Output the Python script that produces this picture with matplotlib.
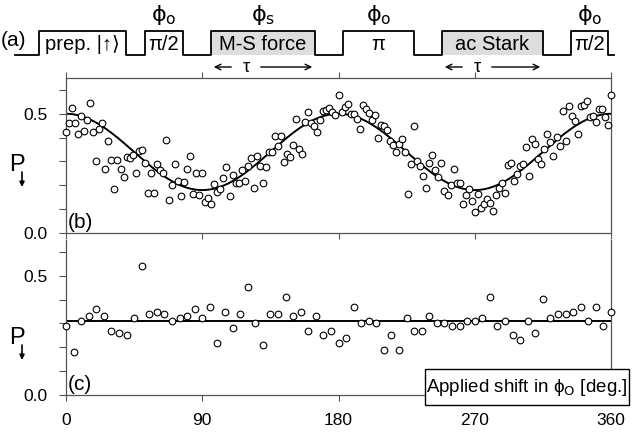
import numpy as np
import matplotlib
matplotlib.use("Agg")
import matplotlib.pyplot as plt
from matplotlib.patches import Rectangle

plt.rcParams['font.family'] = ['Liberation Sans', 'DejaVu Sans']
plt.rcParams['mathtext.fontset'] = 'dejavusans'

# (b) spin-dependent force + ac Stark: P(down) vs applied shift, 2 deg steps
shift_b = np.arange(0, 361, 2)
p_b = [
    0.424, 0.461, 0.525, 0.463, 0.415, 0.489, 0.429, 0.473, 0.545, 0.424,
    0.304, 0.438, 0.463, 0.268, 0.384, 0.308, 0.183, 0.306, 0.268, 0.234,
    0.319, 0.314, 0.328, 0.253, 0.345, 0.349, 0.293, 0.169, 0.253, 0.169,
    0.289, 0.265, 0.253, 0.388, 0.139, 0.200, 0.289, 0.218, 0.155, 0.214,
    0.269, 0.324, 0.162, 0.253, 0.160, 0.252, 0.130,
    0.148, 0.123, 0.204, 0.172, 0.183, 0.230, 0.275, 0.155, 0.244, 0.210,
    0.210, 0.263, 0.218, 0.279, 0.315, 0.188, 0.324, 0.279, 0.209, 0.275,
    0.340, 0.340, 0.405, 0.366, 0.408, 0.298, 0.331, 0.319, 0.368, 0.480,
    0.354, 0.333, 0.466, 0.506, 0.463, 0.450, 0.424, 0.475, 0.511, 0.514,
    0.525, 0.506, 0.494, 0.580, 0.507,
    0.529, 0.539, 0.501, 0.501, 0.480, 0.438, 0.536, 0.520, 0.503, 0.475,
    0.496, 0.399, 0.454, 0.450, 0.431, 0.385, 0.371, 0.340, 0.375, 0.396,
    0.340, 0.164, 0.289, 0.450, 0.303, 0.279, 0.239, 0.188, 0.293, 0.329,
    0.263, 0.235, 0.293, 0.178, 0.160, 0.202, 0.269, 0.210, 0.210, 0.123,
    0.158, 0.186, 0.133, 0.088,
    0.164, 0.104, 0.123, 0.144, 0.127, 0.092, 0.160, 0.190, 0.209, 0.169,
    0.284, 0.293, 0.218, 0.249, 0.279, 0.289, 0.361, 0.239, 0.396, 0.373,
    0.310, 0.289, 0.354, 0.415, 0.380, 0.324, 0.401, 0.366, 0.510, 0.387,
    0.531, 0.489, 0.471, 0.415, 0.531, 0.536, 0.555, 0.485, 0.492, 0.466,
    0.520, 0.520, 0.485, 0.452, 0.580,
]
# fitted fringe through (b)
fit_max = 0.50
fit_min = 0.18

# (c) control: 5 deg steps, flat
shift_c = np.arange(0, 361, 5)
p_c = [
    0.290, 0.181, 0.310, 0.331, 0.360, 0.331, 0.270, 0.261, 0.251, 0.322,
    0.541, 0.340, 0.350, 0.340, 0.310, 0.322, 0.331, 0.360, 0.322, 0.370,
    0.220, 0.350, 0.280, 0.340, 0.451, 0.300, 0.210, 0.340, 0.340, 0.410,
    0.331, 0.350, 0.270, 0.331, 0.251, 0.270, 0.220,
    0.241, 0.371, 0.301, 0.310, 0.301, 0.190, 0.251, 0.190, 0.321,
    0.270, 0.270, 0.331, 0.301, 0.301, 0.290, 0.290, 0.310, 0.310, 0.321,
    0.410, 0.290, 0.310, 0.251, 0.230, 0.310, 0.261, 0.402, 0.321, 0.340,
    0.340, 0.350, 0.371, 0.310, 0.371, 0.290, 0.350,
]
level_c = 0.31

x_ticks = [0, 90, 180, 270, 360]
pulse_labels = ['prep. |↑⟩', 'π/2', 'M-S force', 'π', 'ac Stark', 'π/2']
pulse_phases = ['', 'o', 's', 'o', '', 'o']
pulse_gray = [False, False, True, False, True, False]

W, H = 632, 434
fig = plt.figure(figsize=(W / 100, H / 100), dpi=100)


def px_box(x0, y0, x1, y1):
    return [x0 / W, 1 - y1 / H, (x1 - x0) / W, (y1 - y0) / H]


ax_b = fig.add_axes(px_box(66, 78, 611, 233))
ax_c = fig.add_axes(px_box(66, 240, 611, 395))

edge = '#555555'
for ax in (ax_b, ax_c):
    ax.set_xlim(0, 360)
    ax.set_ylim(0, 0.65)
    ax.set_xticks(x_ticks)
    ax.set_yticks([0, 0.5])
    ax.set_yticklabels(['0.0', '0.5'])
    ax.set_yticks([0.1, 0.2, 0.3, 0.4, 0.6], minor=True)
    ax.tick_params(axis='y', which='both', direction='out', length=5,
                   width=0.8, color=edge, labelsize=12.5, pad=8)
    ax.tick_params(axis='x', direction='out', length=4, width=0.8,
                   color=edge, labelsize=12.5, pad=9)
    for s in ax.spines.values():
        s.set_color(edge)
        s.set_linewidth(0.9)

ax_b.tick_params(axis='x', top=True, labelbottom=False)
ax_c.spines['top'].set_visible(False)

theta = np.linspace(0, 360, 721)
fit = (fit_max + fit_min) / 2 + (fit_max - fit_min) / 2 * np.cos(np.radians(2 * theta))
ax_b.plot(theta, fit, color='black', lw=1.4, zorder=2)
ax_b.plot(shift_b, p_b, 'o', ms=4.8, mfc='white', mec='black', mew=0.8,
          clip_on=False, zorder=3)
ax_c.axhline(level_c, color='black', lw=1.4, zorder=2)
ax_c.plot(shift_c, p_c, 'o', ms=4.8, mfc='white', mec='black', mew=0.8,
          clip_on=False, zorder=3)

ax_b.text(0.004, 0.07, '(b)', transform=ax_b.transAxes, fontsize=15, va='center')
ax_c.text(0.004, 0.065, '(c)', transform=ax_c.transAxes, fontsize=15, va='center')

# overlay in pixel coordinates for the pulse sequence and labels
ov = fig.add_axes([0, 0, 1, 1], zorder=5)
ov.set_xlim(0, W)
ov.set_ylim(H, 0)
ov.axis('off')

y_lo, y_hi = 55, 31
edges = [(39, 126), (145, 183), (211, 315), (343, 414), (442, 543), (571, 608)]
xs, ys = [15], [y_lo]
for (a, b), lab, ph, gray in zip(edges, pulse_labels, pulse_phases, pulse_gray):
    xs += [a, a, b, b]
    ys += [y_lo, y_hi, y_hi, y_lo]
    if gray:
        ov.add_patch(Rectangle((a, y_hi), b - a, y_lo - y_hi, fc='#dddddd', ec='none'))
        ov.annotate('', xy=(a, 67), xytext=(a + 23, 67),
                    arrowprops=dict(arrowstyle='->', lw=1, color='black'))
        ov.text(a + 35, 67, 'τ', fontsize=13, ha='center', va='center')
        ov.annotate('', xy=(b, 67), xytext=(a + 47, 67),
                    arrowprops=dict(arrowstyle='->', lw=1, color='black'))
    ov.text((a + b) / 2, (y_lo + y_hi) / 2 + 1, lab, fontsize=14.5,
            ha='center', va='center')
    if ph:
        ov.text((a + b) / 2, 15, 'ϕ$_{\\rm %s}$' % ph, fontsize=16,
                ha='center', va='center', family='DejaVu Sans')
xs.append(614)
ys.append(y_lo)
ov.plot(xs, ys, color='black', lw=1.3)
ov.text(1, 41, '(a)', fontsize=15, va='center')

# P with a down arrow under its right foot
for y_p in (165, 338):
    ov.text(9, y_p, 'P', fontsize=17, va='center')
    ov.annotate('', xy=(22, y_p + 22), xytext=(22, y_p + 7),
                arrowprops=dict(arrowstyle='-|>', lw=1.2, color='black',
                                mutation_scale=7, shrinkA=0, shrinkB=0))

ov.add_patch(Rectangle((425, 369), 204, 36, fc='white', ec='black', lw=1))
ov.text(527, 387, 'Applied shift in ϕ$_{\\rm O}$ [deg.]', fontsize=13.5,
        ha='center', va='center')

fig.savefig('out.png', dpi=100)
